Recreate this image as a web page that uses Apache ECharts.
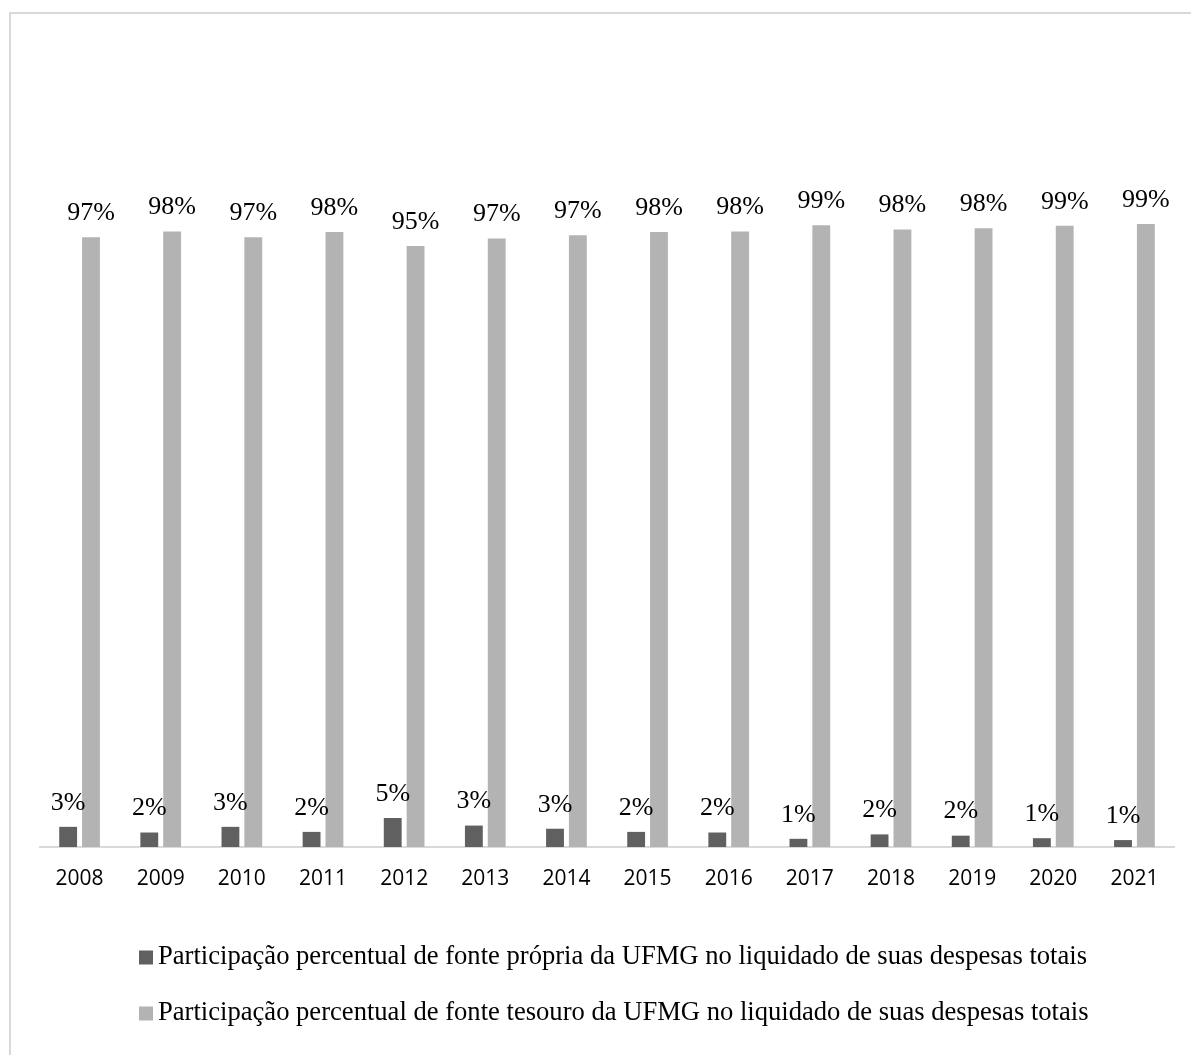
<!DOCTYPE html>
<html>
<head>
<meta charset="utf-8">
<script src="https://cdn.jsdelivr.net/npm/echarts@6/dist/echarts.min.js"></script>
<style>
  html, body { margin: 0; padding: 0; background: #ffffff; }
  #chart { width: 1191px; height: 1055px; }
</style>
</head>
<body>
<div id="chart"></div>
<script>
// Anos da série
const years = ['2008', '2009', '2010', '2011', '2012', '2013', '2014',
               '2015', '2016', '2017', '2018', '2019', '2020', '2021'];

// Participação percentual de fonte própria (%)
const fontePropria = [3.2, 2.3, 3.2, 2.4, 4.6, 3.4, 2.9, 2.4, 2.3, 1.3, 2.0, 1.8, 1.4, 1.1];

// Participação percentual de fonte tesouro (%)
const fonteTesouro = [96.8, 97.7, 96.8, 97.6, 95.4, 96.6, 97.1, 97.6, 97.7, 98.7, 98.0, 98.2, 98.6, 98.9];

const seriesNames = [
  'Participação percentual de fonte própria da UFMG no liquidado de suas despesas totais',
  'Participação percentual de fonte tesouro da UFMG no liquidado de suas despesas totais'
];

const serif = '"Liberation Serif", "Times New Roman", serif';

const labelStyle = {
  show: true,
  position: 'top',
  distance: 11,
  fontFamily: serif,
  fontSize: 26,
  color: '#000000',
  formatter: p => Math.round(p.value) + '%'
};

const chart = echarts.init(document.getElementById('chart'), null, { renderer: 'canvas' });

chart.setOption({
  backgroundColor: '#ffffff',
  animation: false,
  grid: { left: 39, right: 16, top: 217, bottom: 208, containLabel: false },
  xAxis: {
    type: 'category',
    data: years,
    axisLine: { show: false },
    axisTick: { show: false },
    axisLabel: {
      fontFamily: '"Open Sans", sans-serif',
      fontSize: 21,
      color: '#000000',
      margin: 22
    }
  },
  yAxis: {
    type: 'value',
    min: 0,
    max: 100,
    show: false,
    splitLine: { show: false }
  },
  legend: {
    orient: 'vertical',
    left: 134,
    top: 939,
    itemWidth: 14,
    itemHeight: 14,
    itemGap: 29,
    icon: 'rect',
    textStyle: { fontFamily: serif, fontSize: 26.6, color: '#000000' },
    data: seriesNames
  },
  series: [
    {
      name: seriesNames[0],
      type: 'bar',
      data: fontePropria,
      barWidth: '22%',
      barGap: '28%',
      itemStyle: { color: '#606060' },
      label: labelStyle
    },
    {
      name: seriesNames[1],
      type: 'bar',
      data: fonteTesouro,
      barWidth: '22%',
      itemStyle: { color: '#b3b3b3' },
      label: labelStyle
    }
  ]
});

// Moldura externa e linha de base do eixo, a partir da área do grid
const rect = chart.getModel().getComponent('grid').coordinateSystem.getRect();
const baseY = chart.convertToPixel({ yAxisIndex: 0 }, 0);
chart.setOption({
  graphic: [
    {
      type: 'rect',
      shape: { x: 10, y: 13, width: 1250, height: 1100 },
      style: { fill: 'none', stroke: '#d9d9d9', lineWidth: 2 },
      silent: true
    },
    {
      type: 'line',
      shape: { x1: rect.x, y1: baseY, x2: rect.x + rect.width, y2: baseY },
      style: { stroke: '#d9d9d9', lineWidth: 2 },
      silent: true
    }
  ]
});
</script>
</body>
</html>
